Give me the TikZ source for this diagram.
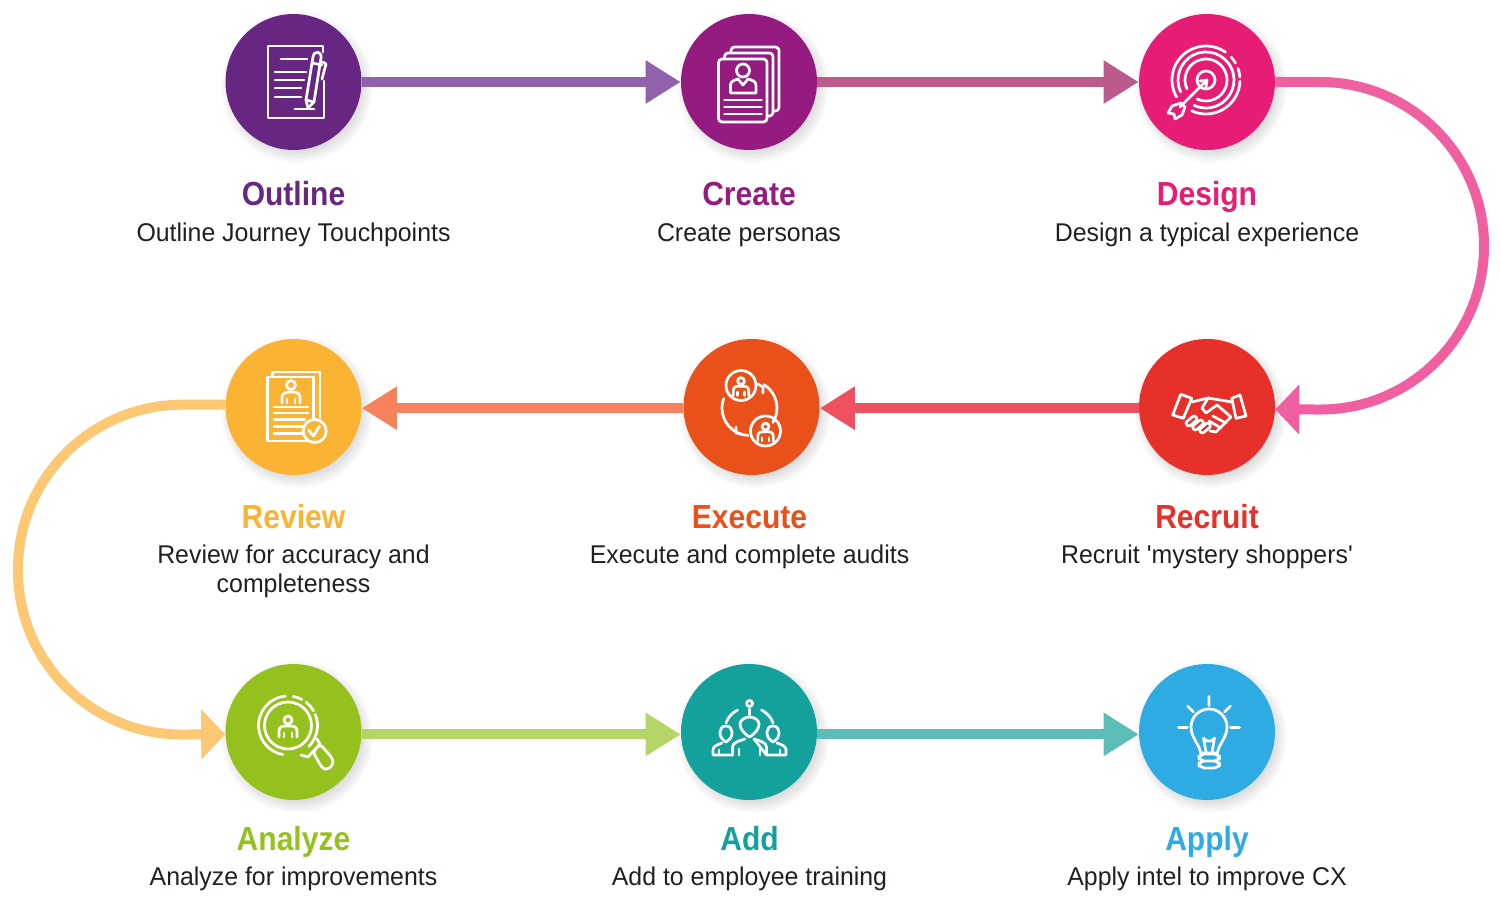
\documentclass[tikz,border=0pt]{standalone}
\usepackage{fontspec}
\usepackage{xcolor}
\usetikzlibrary{arrows.meta}
\setmainfont[FakeStretch=.97]{Liberation Sans}
\newfontfamily\titlefont[FakeStretch=.9]{Liberation Sans}
\definecolor{outlinec}{HTML}{662682}
\definecolor{createc}{HTML}{951B81}
\definecolor{designc}{HTML}{E71C74}
\definecolor{recruitc}{HTML}{E73029}
\definecolor{executec}{HTML}{EA501A}
\definecolor{reviewc}{HTML}{FAB332}
\definecolor{analyzec}{HTML}{95C11F}
\definecolor{addc}{HTML}{14A19C}
\definecolor{applyc}{HTML}{2DABE2}
\definecolor{textc}{HTML}{231F20}
\definecolor{outlinea}{HTML}{9161AB}
\definecolor{createa}{HTML}{BB5B8C}
\definecolor{designa}{HTML}{F05F9F}
\definecolor{recruita}{HTML}{EE5060}
\definecolor{executea}{HTML}{F5825C}
\definecolor{reviewa}{HTML}{FDC873}
\definecolor{analyzea}{HTML}{B5D566}
\definecolor{adda}{HTML}{5CBDB7}
\tikzset{
  stepcircle/.style={circle,fill=#1,minimum size=2.72cm,inner sep=0pt},
  steptitle/.style={anchor=base,text=#1,font=\titlefont\bfseries\fontsize{19}{23}\selectfont},
  stepdesc/.style={anchor=base,text=textc,align=center,font=\fontsize{14.6}{16.5}\selectfont},
  longarrow/.style={draw=#1,line width=.2cm,-{Triangle[length=.7cm,width=.82cm]}},
  bendarrow/.style={draw=#1,line width=.2cm,rounded corners=3.28cm,-{Triangle[length=.48cm,width=.98cm]}},
  icon/.style={draw=white,line width=1.55pt,line cap=round,line join=round},
}
\newcommand{\stepshadow}[2]{%
  \foreach \r in {60,62,...,76} {
    \fill[black,opacity=.018] (#1+4,#2+5) circle[radius=\r];
  }
}
\newcommand{\iconperson}[3]{%
  \begin{scope}[shift={(#1,#2)},scale=#3]
    \draw[icon] (0,-7) circle[radius=4];
    \draw[icon] (-9,10) -- (-9,4) .. controls (-9,-1) and (-5,-1) .. (0,-1) .. controls (5,-1) and (9,-1) .. (9,4) -- (9,10);
    \draw[icon] (-4,10) -- (-4,6) (4,10) -- (4,6);
  \end{scope}
}
\newcommand{\iconfinger}[2]{%
  \begin{scope}[shift={(#1,#2)},rotate=40]
    \draw[icon,rounded corners=1.2pt] (-6,-2.6) rectangle (6,2.6);
  \end{scope}
}

\begin{document}
\begin{tikzpicture}[x=.02cm,y=-.02cm]
  \useasboundingbox (0,0) rectangle (1500,908);
  \stepshadow{293}{82}
  \stepshadow{749}{82}
  \stepshadow{1207}{82}
  \stepshadow{293}{407}
  \stepshadow{751}{407}
  \stepshadow{1207}{407}
  \stepshadow{293}{732}
  \stepshadow{749}{732}
  \stepshadow{1207}{732}

  \node[stepcircle=outlinec] (outline) at (293.5,82) {};
  \node[stepcircle=createc] (create) at (749,82) {};
  \node[stepcircle=designc] (design) at (1207,82) {};
  \node[stepcircle=recruitc] (recruit) at (1207,407) {};
  \node[stepcircle=executec] (execute) at (751.5,407) {};
  \node[stepcircle=reviewc] (review) at (293.5,407) {};
  \node[stepcircle=analyzec] (analyze) at (293.5,732) {};
  \node[stepcircle=addc] (add) at (749,732) {};
  \node[stepcircle=applyc] (apply) at (1207,732) {};

  \node[steptitle=outlinec] (outlinetitle) at (293.5,206) {Outline};
  \node[stepdesc] (outlinedesc) at (293.5,242) {Outline Journey Touchpoints};
  \node[steptitle=createc] (createtitle) at (749,206) {Create};
  \node[stepdesc] (createdesc) at (749,242) {Create personas};
  \node[steptitle=designc] (designtitle) at (1207,206) {Design};
  \node[stepdesc] (designdesc) at (1207,242) {Design a typical experience};
  \node[steptitle=recruitc] (recruittitle) at (1207,528) {Recruit};
  \node[stepdesc] (recruitdesc) at (1207,563) {Recruit \textquotesingle mystery shoppers\textquotesingle};
  \node[steptitle=executec] (executetitle) at (749.5,528) {Execute};
  \node[stepdesc] (executedesc) at (749.5,563) {Execute and complete audits};
  \node[steptitle=reviewc] (reviewtitle) at (293.5,528) {Review};
  \node[stepdesc] (reviewdesc) at (293.5,563) {Review for accuracy and};
  \node[stepdesc] (reviewdesctwo) at (293.5,592) {completeness};
  \node[steptitle=analyzec] (analyzetitle) at (293.5,850) {Analyze};
  \node[stepdesc] (analyzedesc) at (293.5,885) {Analyze for improvements};
  \node[steptitle=addc] (addtitle) at (749.5,850) {Add};
  \node[stepdesc] (adddesc) at (749.5,885) {Add to employee training};
  \node[steptitle=applyc] (applytitle) at (1207,850) {Apply};
  \node[stepdesc] (applydesc) at (1207,885) {Apply intel to improve CX};

  \draw[longarrow=outlinea] (outline.east) -- (create.west);
  \draw[longarrow=createa] (create.east) -- (design.west);
  \draw[bendarrow=designa] (design.east) -- (1484,82) -- (1484,410) -- (recruit.-2.5);
  \draw[longarrow=recruita] (recruit.181) -- (execute.-1);
  \draw[longarrow=executea] (execute.181) -- (review.-1);
  \draw[bendarrow=reviewa] (review.178) -- (18,405) -- (18,735) -- (analyze.182.5);
  \draw[longarrow=analyzea] (analyze.-2.5) -- (add.182.5);
  \draw[longarrow=adda] (add.-2.5) -- (apply.182.5);

  % outline
  \draw[icon] (323,52) -- (323,46) -- (268,46) -- (268,118) -- (324,118) -- (324,81);
  \draw[icon] (281,59) -- (307,59) (275,72) -- (306,72) (275,80) -- (304,80) (275,88) -- (301,88) (275,97) -- (301,97) (295,109) -- (314,109);
  \draw[icon] (306,100) -- (313,57) .. controls (314,50) and (322,51) .. (321,58) -- (314,102) -- (308,108) -- cycle;
  \draw[icon] (312,63) -- (322,65) (306,100) -- (314,102) (323,62) -- (326,64) -- (322,79);
  % create
  \draw[icon,rounded corners=2pt] (718.5,59) rectangle (767,122);
  \draw[icon,rounded corners=2pt] (724.5,59) -- (724.5,53) -- (773,53) -- (773,116) -- (767,116);
  \draw[icon,rounded corners=2pt] (731,53) -- (731,47) -- (779,47) -- (779,111) -- (773,111);
  \draw[icon] (743,70.5) circle[radius=6.5];
  \draw[icon] (730.5,93) -- (730.5,85) .. controls (730.5,81) and (735,80) .. (738,79) -- (743,85) -- (748,79) .. controls (751,80) and (756,81) .. (756,85) -- (756,93) -- cycle;
  \draw[icon] (724.5,100) -- (761.5,100) (724.5,107) -- (761.5,107) (724.5,114) -- (761.5,114);
  % design
  \draw[icon] (1206,80) circle[radius=9];
  \draw[icon] (1206,80) ++(155:21) arc[start angle=155,end angle=475,radius=21];
  \draw[icon] (1206,80) ++(155:28) arc[start angle=155,end angle=475,radius=28];
  \draw[icon] (1206,80) ++(150:34) arc[start angle=150,end angle=305,radius=34];
  \draw[icon] (1206,80) ++(318:34) arc[start angle=318,end angle=330,radius=34];
  \draw[icon] (1206,80) ++(340:34) arc[start angle=340,end angle=355,radius=34];
  \draw[icon] (1206,80) ++(2:34) arc[start angle=2,end angle=115,radius=34];
  \draw[icon] (1207,80) -- (1180,107) (1200,81) -- (1207,80) -- (1206,87);
  \draw[icon] (1181,103) -- (1172,106) -- (1168,113) -- (1174,114) -- (1175,119) -- (1182,115) -- (1185,107) -- cycle;
  % recruit
  \draw[icon] (1180.7,394.3) -- (1191.7,398.3) -- (1183.3,418.3) -- (1172.7,415) -- cycle;
  \draw[icon] (1231.7,398.3) -- (1240,395) -- (1246,416) -- (1236,418.3) -- cycle;
  \draw[icon] (1192,402) -- (1204,399) -- (1209,398);
  \draw[icon] (1232,402) -- (1220,400) -- (1208,398) -- (1202,408) -- (1206,413) -- (1217,405) -- (1231,417);
  \iconfinger{1191.5}{421}
  \iconfinger{1198}{425}
  \iconfinger{1205}{428}
  \draw[icon] (1210,431) -- (1216,432) -- (1231,417) (1212.7,416) -- (1226,423) (1209,421) -- (1221,428);
  % execute
  \draw[icon] (741,385.5) circle[radius=15];
  \draw[icon] (765.5,431) circle[radius=15];
  \iconperson{741}{387}{.85}
  \iconperson{765.5}{432.5}{.85}
  \draw[icon] (749.5,408) ++(200:27.5) arc[start angle=200,end angle=93,radius=27.5];
  \draw[icon] (749.5,408) ++(-58:27.5) arc[start angle=-58,end angle=32,radius=27.5];
  \draw[icon] (758,384) -- (763,387) -- (763,393) (736,427) -- (736,433) -- (741,434);
  % review
  \draw[icon] (267.5,377) rectangle (313.5,441);
  \draw[icon] (272.5,377) -- (272.5,372) -- (320,372) -- (320,418);
  \draw[icon] (291,385) circle[radius=4.5];
  \draw[icon] (282,403) -- (282,397) .. controls (282,393) and (286,392) .. (291,392) .. controls (296,392) and (300,393) .. (300,397) -- (300,403);
  \draw[icon] (287,403) -- (287,399) (295,403) -- (295,399);
  \draw[icon] (274,407) -- (308,407) (274,413) -- (308,413) (274,419.5) -- (305,419.5) (274,426.5) -- (303,426.5) (274,433.5) -- (303,433.5);
  \draw[icon,fill=reviewc] (314.7,431) circle[radius=11.5];
  \draw[icon] (308.5,430) -- (313.5,436) -- (319.5,426);
  % analyze
  \draw[icon] (288,725.5) ++(-95:29.5) arc[start angle=-95,end angle=-260,radius=29.5];
  \draw[icon] (288,725.5) ++(-80:29.5) arc[start angle=-80,end angle=-62,radius=29.5];
  \draw[icon] (288,725.5) ++(-52:29.5) arc[start angle=-52,end angle=-30,radius=29.5];
  \draw[icon] (288,725.5) ++(-22:29.5) arc[start angle=-22,end angle=45,radius=29.5];
  \draw[icon] (288,725.5) circle[radius=23.5];
  \iconperson{288}{727}{1}
  \draw[icon] (301,755) -- (308,757) -- (320,744) -- (317,739);
  \draw[icon,rounded corners=2pt] (313,752) -- (320,744) -- (333,759) -- (333,765) -- (327,770) -- (322,768) -- cycle;
  % add
  \draw[icon] (749.5,703.5) circle[radius=3];
  \draw[icon] (749.5,709) -- (749.5,715);
  \draw[icon] (726,723) .. controls (728,717) and (732,713) .. (737.5,710);
  \draw[icon] (773,723) .. controls (771,717) and (767,713) .. (761.5,710);
  \draw[icon] (749.5,737) .. controls (743,733) and (740,728) .. (740,724) .. controls (740,720) and (745,717) .. (749.5,717) .. controls (754,717) and (759,720) .. (759,724) .. controls (759,728) and (756,733) .. (749.5,737) -- cycle;
  \draw[icon] (732.5,755) -- (732.5,747) .. controls (732.5,743) and (738,741) .. (745,739) (754,739) .. controls (761,741) and (766.5,743) .. (766.5,747) -- (766.5,755) -- cycle;
  \draw[icon] (739,755) -- (739,749) (760,755) -- (760,749);
  \draw[icon] (726,742) .. controls (721,739) and (720,736) .. (720,732) .. controls (720,729) and (722,726) .. (726,726) .. controls (730,726) and (732,729) .. (732,732) .. controls (732,736) and (731,739) .. (726,742) -- cycle;
  \draw[icon] (732.5,755) -- (713,755) -- (713,750) .. controls (713,746) and (717,745) .. (722,743);
  \draw[icon] (719,755) -- (719,750);
  \draw[icon] (773,742) .. controls (768,739) and (767,736) .. (767,732) .. controls (767,729) and (769,726) .. (773,726) .. controls (777,726) and (779,729) .. (779,732) .. controls (779,736) and (778,739) .. (773,742) -- cycle;
  \draw[icon] (766.5,755) -- (786,755) -- (786,750) .. controls (786,746) and (782,745) .. (777,743);
  \draw[icon] (780,755) -- (780,750);
  % apply
  \draw[icon] (1209,696.5) -- (1209,705.5) (1187.5,706) -- (1193.5,712) (1230.5,706) -- (1224.5,712) (1178.5,727.5) -- (1187.5,727.5) (1230.5,727.5) -- (1239.5,727.5);
  \draw[icon] (1200.5,753) .. controls (1200,745) and (1191,738) .. (1191,727) .. controls (1191,717) and (1199,709) .. (1209,709) .. controls (1219,709) and (1227,717) .. (1227,727) .. controls (1227,738) and (1218,745) .. (1217.5,753) -- cycle;
  \draw[icon] (1206,752) -- (1203.5,738) -- (1207,741) -- (1211,741) -- (1214.5,738) -- (1212,752);
  \draw[icon,rounded corners=3pt] (1199,754) rectangle (1219.5,761) (1199,761) rectangle (1219.5,768);
\end{tikzpicture}
\end{document}
